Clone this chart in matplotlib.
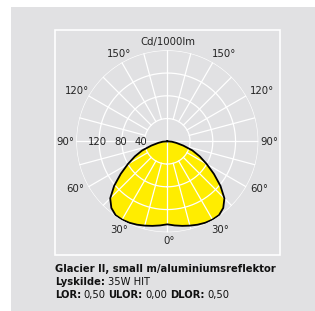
import numpy as np
import matplotlib
matplotlib.use("Agg")
import matplotlib.pyplot as plt
from matplotlib.patches import Rectangle

plt.rcParams['font.family'] = ['DejaVu Sans']

# lysfordeling (cd/1000lm), vinkel fra nadir, symmetrisk
vinkler = [0, 5, 10, 15, 20, 25, 30, 35, 40, 45, 50, 55, 60, 65, 70, 75, 80, 85, 90]
intensitet = [146, 148.5, 151, 153.5, 156, 158, 159, 158.5, 153, 142, 122, 100, 80, 63, 47, 29, 16, 8, 0]

ringe = [40, 80, 120, 160]
ring_labels = ["40", "80", "120"]

titel = "Glacier II, small m/aluminiumsreflektor"
lyskilde = "35W HIT"
lor = ["0,50", "0,00", "0,50"]

W, H = 315, 311
gray = "#e1e1e3"
yellow = "#ffed00"

fig = plt.figure(figsize=(W / 100, H / 100), dpi=100, facecolor="white")


def fx(px):
    return px / W


def fy(py):
    return 1 - py / H


# grå baggrund og hvid ramme
fig.patches.append(Rectangle((fx(11), 0), 1 - fx(11), fy(7), transform=fig.transFigure,
                             facecolor=gray, edgecolor="none", zorder=-5))
fig.patches.append(Rectangle((fx(54.5), fy(254.5)), fx(279.5) - fx(54.5), fy(29.5) - fy(254.5),
                             transform=fig.transFigure, facecolor="none", edgecolor="white",
                             lw=1.2, zorder=-4))

# polar diagram
cx, cy, rad = 167.3, 141.3, 91
ax = fig.add_axes([fx(cx - rad), fy(cy + rad), 2 * rad / W, 2 * rad / H], projection="polar")
ax.set_theta_zero_location("S")
ax.set_ylim(0, 160)
ax.axis("off")
ax.patch.set_alpha(0)

a = np.array(vinkler, dtype=float)
r = np.array(intensitet, dtype=float)
theta = np.deg2rad(np.concatenate([-a[::-1], a[1:]]))
rr = np.concatenate([r[::-1], r[1:]])
ax.fill(theta, rr, color=yellow, zorder=1, lw=0)

t = np.linspace(0, 2 * np.pi, 400)
for ring in ringe:
    ax.plot(t, np.full_like(t, ring), color="white", lw=0.9, zorder=2)
for deg in range(0, 360, 15):
    start = 0 if deg % 90 == 0 else 40
    ax.plot([np.deg2rad(deg)] * 2, [start, 160], color="white", lw=0.9, zorder=2)

ax.plot(theta, rr, color="black", lw=1.3, zorder=3, solid_joinstyle="round")

# tekster ved diagrammet
fs = 7.3
tc = "#222222"
fig.text(fx(168), fy(41.7), "Cd/1000lm", ha="center", va="center", fontsize=fs, color=tc)
for x, y, s in [(119, 54, "150°"), (224, 54, "150°"), (77, 91, "120°"), (262, 91, "120°"),
                (65, 142, "90°"), (269, 142, "90°"), (75, 189, "60°"), (259, 189, "60°"),
                (119, 230, "30°"), (220, 230, "30°"), (169, 240.7, "0°")]:
    fig.text(fx(x), fy(y), s, ha="center", va="center", fontsize=fs, color=tc)
for x, s in zip([141, 120.5, 97], ring_labels):
    fig.text(fx(x), fy(142), s, ha="center", va="center", fontsize=fs, color=tc)

# tekst under diagrammet
renderer = fig.canvas.get_renderer()


def linje(y, dele):
    x = fx(55)
    for s, bold in dele:
        txt = fig.text(x, fy(y), s, ha="left", va="center", fontsize=7.2,
                       fontweight="bold" if bold else "normal", color="#111111")
        bb = txt.get_window_extent(renderer=renderer)
        x += bb.width / W + fx(2.6)


linje(269, [(titel, True)])
linje(282, [("Lyskilde:", True), (lyskilde, False)])
linje(294.7, [("LOR:", True), (lor[0], False), ("ULOR:", True), (lor[1], False),
              ("DLOR:", True), (lor[2], False)])

fig.savefig("out.png", dpi=100, facecolor="white")
